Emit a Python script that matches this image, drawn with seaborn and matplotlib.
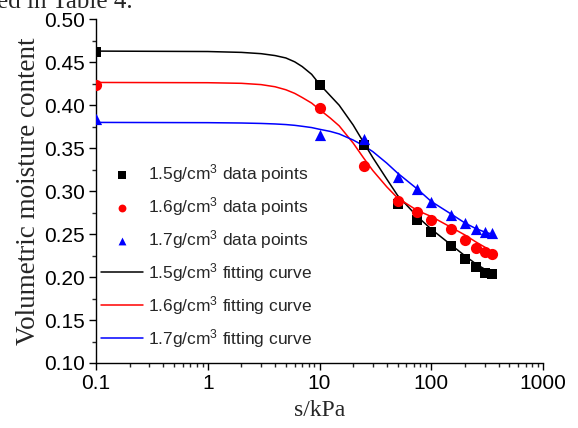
import numpy as np
import pandas as pd
import matplotlib
matplotlib.use("Agg")
import matplotlib.pyplot as plt
import seaborn as sns
from matplotlib.ticker import AutoMinorLocator, FormatStrFormatter, FuncFormatter, LogLocator

# measured points (suction in kPa, volumetric moisture content)
s_points = [0.1, 10, 25, 50, 75, 100, 150, 200, 250, 300, 350]
theta_15 = [0.462, 0.423, 0.354, 0.285, 0.266, 0.252, 0.236, 0.221, 0.212, 0.205, 0.203]
theta_16 = [0.424, 0.397, 0.329, 0.288, 0.276, 0.267, 0.256, 0.243, 0.234, 0.229, 0.227]
theta_17 = [0.384, 0.365, 0.361, 0.316, 0.302, 0.287, 0.272, 0.263, 0.256, 0.253, 0.251]

# fitting curves
s_fit = [0.1, 1, 2, 3, 4, 5, 6, 7, 8.5, 10, 12.5, 15, 20, 25, 30, 40, 50, 75, 100, 150, 200, 250, 300, 350]
fit_15 = [0.463, 0.4625, 0.4615, 0.460, 0.4578, 0.455, 0.4505, 0.445, 0.436, 0.4245, 0.411, 0.400,
          0.377, 0.356, 0.339, 0.314, 0.295, 0.2705, 0.2558, 0.2376, 0.2248, 0.2155, 0.2093, 0.2055]
fit_16 = [0.4265, 0.4262, 0.4255, 0.424, 0.4215, 0.418, 0.4138, 0.409, 0.4025, 0.395, 0.385, 0.376,
          0.356, 0.338, 0.324, 0.305, 0.292, 0.2775, 0.2705, 0.258, 0.249, 0.241, 0.235, 0.2295]
fit_17 = [0.380, 0.3797, 0.3793, 0.3788, 0.3782, 0.3775, 0.3766, 0.3755, 0.374, 0.372, 0.3695, 0.3666,
          0.3595, 0.3527, 0.346, 0.3326, 0.321, 0.3025, 0.288, 0.2735, 0.263, 0.2565, 0.2525, 0.250]

densities = ["1.5", "1.6", "1.7"]
colors = ["black", "red", "blue"]
markers = ["s", "o", "^"]
sizes = [55, 65, 65]

sns.set_style("ticks")
plt.rcParams["font.family"] = ["Liberation Sans", "DejaVu Sans"]
plt.rcParams["mathtext.fontset"] = "custom"
plt.rcParams["mathtext.rm"] = "Liberation Sans"
plt.rcParams["mathtext.it"] = "Liberation Sans:italic"

fig = plt.figure(figsize=(5.78, 4.28), dpi=100)
ax = fig.add_axes([96 / 578, 1 - 363 / 428, 447 / 578, (363 - 19.3) / 428])

for d, c, m, sz, th in zip(densities, colors, markers, sizes, [theta_15, theta_16, theta_17]):
    sns.scatterplot(x=s_points, y=th, ax=ax, color=c, marker=m, s=sz, linewidth=0,
                    label=d + "g/cm$^{3}$ data points", zorder=3)

for d, c, fv in zip(densities, colors, [fit_15, fit_16, fit_17]):
    sns.lineplot(x=s_fit, y=fv, ax=ax, color=c, linewidth=1.1,
                 label=d + "g/cm$^{3}$ fitting curve", zorder=2)

ax.set_xscale("log")
ax.set_xlim(0.1, 1000)
ax.set_ylim(0.10, 0.50)
ax.set_yticks(np.arange(0.10, 0.501, 0.05))
ax.yaxis.set_minor_locator(AutoMinorLocator(2))
ax.yaxis.set_major_formatter(FormatStrFormatter("%.2f"))
ax.xaxis.set_major_locator(LogLocator(base=10))
ax.xaxis.set_minor_locator(LogLocator(base=10, subs=np.arange(2, 10)))
ax.xaxis.set_major_formatter(FuncFormatter(lambda v, p: "%g" % v))
ax.tick_params(which="major", direction="out", length=5, width=1, labelsize=15, colors="black", pad=3)
ax.tick_params(which="minor", direction="out", length=3, width=1)
for sp in ["left", "bottom"]:
    ax.spines[sp].set_color("black")
    ax.spines[sp].set_linewidth(1)
sns.despine(ax=ax)

ax.set_xlabel("s/kPa", family="Liberation Serif", fontsize=17, labelpad=5)
ax.set_ylabel("Volumetric moisture content", family="Liberation Serif", fontsize=19.5, labelpad=2)

leg = ax.legend(loc="upper left", bbox_to_anchor=(0.012, 0.585), frameon=False, fontsize=12.5,
                handlelength=2.4, handletextpad=0.3, labelspacing=0.58, markerscale=0.7,
                borderpad=0, borderaxespad=0)

# clipped caption from the page above the figure
fig.text(-0.005, 0.982, "ed in Table 4.", family="Liberation Serif", fontsize=18, va="baseline")

fig.savefig("out.png", dpi=100)
